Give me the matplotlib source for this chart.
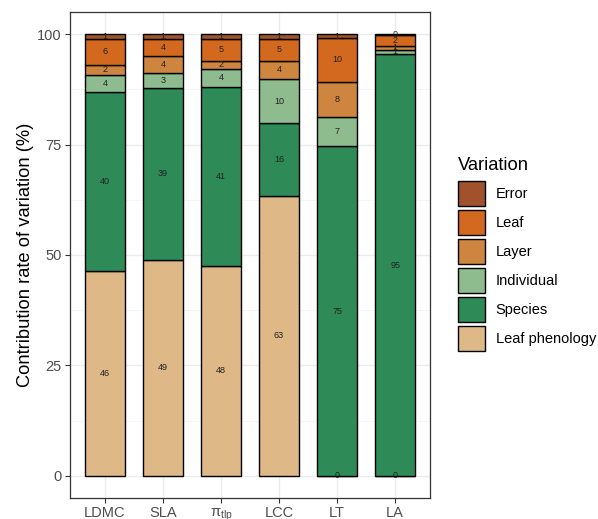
import matplotlib
matplotlib.use("Agg")
import matplotlib.pyplot as plt
from matplotlib.patches import Patch
import numpy as np

plt.rcParams['font.family'] = ['Liberation Sans', 'DejaVu Sans']
plt.rcParams['mathtext.fontset'] = 'custom'
plt.rcParams['mathtext.rm'] = 'Liberation Sans'
plt.rcParams['mathtext.it'] = 'Liberation Sans:italic'

# ---- data ----
traits = ["LDMC", "SLA", "π$_{\\mathrm{tlp}}$", "LCC", "LT", "LA"]
components = ["Leaf phenology", "Species", "Individual", "Layer", "Leaf", "Error"]
leaf_phenology = [46.4, 48.9, 47.5, 63.4, 0.0, 0.0]
species        = [40.5, 39.0, 40.6, 16.4, 74.6, 95.4]
individual     = [3.9, 3.2, 4.0, 10.0, 6.6, 1.1]
layer          = [2.2, 3.9, 1.9, 4.2, 8.0, 0.9]
leaf           = [6.0, 4.0, 5.0, 5.0, 9.9, 2.4]
error          = [1.0, 1.0, 1.0, 1.0, 0.9, 0.2]
series = [leaf_phenology, species, individual, layer, leaf, error]
colors = ["#DEB887", "#2E8B57", "#8FBC8F", "#CD853F", "#D2691E", "#A0522D"]

W, H = 598, 519
fig = plt.figure(figsize=(W / 100, H / 100), dpi=100)
ax = fig.add_axes([70 / W, 1 - 498 / H, (430 - 70) / W, (498 - 12) / H])

x = np.arange(len(traits))
bottom = np.zeros(len(traits))
for vals, col in zip(series, colors):
    vals = np.array(vals)
    ax.bar(x, vals, bottom=bottom, width=0.7, color=col, edgecolor="black",
           linewidth=1.0, zorder=3)
    for xi, b, v in zip(x, bottom, vals):
        ax.text(xi, b + v / 2, f"{int(round(v))}", ha="center", va="center",
                fontsize=6.5, color="#222222", zorder=4)
    bottom = bottom + vals

ax.set_xlim(-0.6, len(traits) - 0.4)
ax.set_ylim(-5, 105)
ax.set_yticks([0, 25, 50, 75, 100])
ax.set_yticks([12.5, 37.5, 62.5, 87.5], minor=True)
ax.set_xticks(x)
ax.set_xticklabels(traits)
ax.grid(True, which="major", color="#EBEBEB", linewidth=1.0, zorder=0)
ax.grid(True, which="minor", axis="y", color="#F4F4F4", linewidth=0.6, zorder=0)
ax.set_axisbelow(True)
ax.tick_params(axis="both", which="major", length=3.5, width=0.8, color="#333333",
               labelsize=10.5, labelcolor="#4D4D4D", pad=2.5)
ax.tick_params(axis="y", which="minor", length=0)
for s in ax.spines.values():
    s.set_color("#333333")
    s.set_linewidth(0.9)
ax.set_ylabel("Contribution rate of variation (%)", fontsize=13.2, color="black", labelpad=2)

handles = [Patch(facecolor=c, edgecolor="black", linewidth=1.0, label=l)
           for c, l in zip(colors[::-1], components[::-1])]
fig.text(458 / W, 1 - 170 / H, "Variation", fontsize=13.2, ha="left", va="baseline")
leg = fig.legend(handles=handles, loc="upper left",
                 bbox_to_anchor=(446 / W, 1 - 169 / H), frameon=False,
                 fontsize=10.5, handlelength=1.85,
                 handleheight=2.3, labelspacing=0.25, handletextpad=0.75,
                 borderpad=0.3)

fig.savefig("out.png", dpi=100)
